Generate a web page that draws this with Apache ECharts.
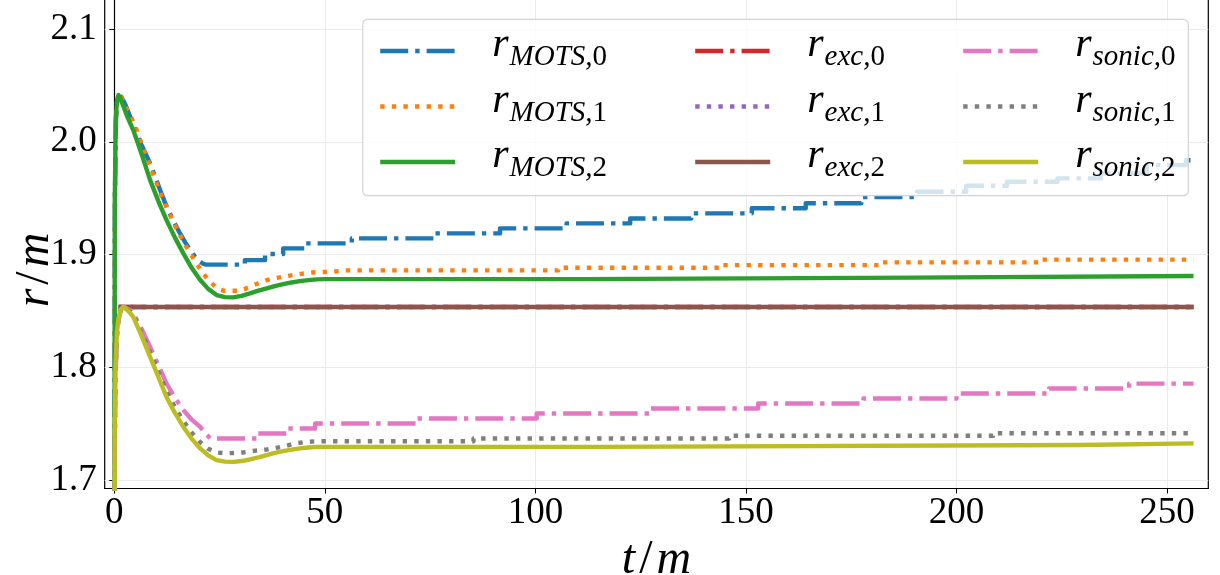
<!DOCTYPE html>
<html>
<head>
<meta charset="utf-8">
<script src="https://cdn.jsdelivr.net/npm/echarts@6/dist/echarts.min.js"></script>
<style>
  html, body { margin: 0; padding: 0; background: #ffffff; }
  #chart { width: 1220px; height: 575px; }
</style>
</head>
<body>
<div id="chart"></div>
<script>
// ---- data: radii r/m against time t/m ----
// Each curve: a transient part [t, r] followed by staircase levels [t_jump, new r]
const T_END = 256.3;

const xTicks = [0, 50, 100, 150, 200, 250];
const yTicks = [1.7, 1.8, 1.9, 2.0, 2.1];

// MOTS radii
const motsCurve0 = [[0,1.55],[0.15,1.95],[0.4,2.02],[0.7,2.037],[1.1,2.042],[1.8,2.039],[2.5,2.034],[3.3,2.0266],[4.7,2.0135],[6.1,2.0],[7.3,1.9905],[8.5,1.9808],[9.7,1.969],[10.9,1.957],[12.0,1.9465],[13.2,1.9365],[14.4,1.9272],[15.6,1.9187],[16.8,1.911],[18,1.904],[19.2,1.898],[20.4,1.8935],[21.1,1.8918],[21.8,1.891]];
const motsSteps0 = [[31,1.895],[35.8,1.9004],[40.1,1.9054],[45.3,1.9099],[56.4,1.9143],[75.8,1.9187],[91.6,1.9232],[107.4,1.9276],[122.5,1.932],[137,1.9365],[151.4,1.941],[164.2,1.9455],[177.4,1.951],[190.6,1.9557],[202.3,1.961],[212,1.9645],[224,1.9675],[234.3,1.972],[245.2,1.9793],[254.5,1.9836]];

const motsCurve1 = [[0,1.55],[0.15,1.95],[0.4,2.02],[0.7,2.037],[1.1,2.0415],[1.8,2.0385],[2.4,2.034],[3,2.029],[4.1,2.021],[5.2,2.0115],[7.2,1.991],[9.2,1.9715],[11.1,1.953],[13.1,1.936],[15.1,1.9205],[17.1,1.907],[19.1,1.8945],[21.1,1.883],[22.6,1.8765],[24,1.8715],[25,1.869],[26,1.8678],[29.5,1.8678],[30.8,1.8692],[32.2,1.8713],[34.2,1.8745],[36.2,1.8773],[38.1,1.879],[40,1.8802],[42,1.8815],[44,1.8826],[47,1.8841],[52,1.8848],[55,1.8859]];
const motsSteps1 = [[105.4,1.8882],[144.5,1.8906],[182.3,1.893],[220.3,1.8955]];

const motsCurve2 = [[0,1.55],[0.12,1.95],[0.35,2.02],[0.65,2.037],[1.0,2.0414],[1.5,2.0385],[2.0,2.033],[3.0,2.023],[4.5,2.0104],[6.5,1.989],[8.5,1.966],[10.5,1.947],[12.4,1.9305],[14.4,1.915],[16.4,1.901],[18.4,1.888],[20.4,1.8773],[22.3,1.8695],[24.3,1.864],[26.3,1.8622],[28.3,1.862],[30.2,1.8633],[32.2,1.8655],[34.2,1.868],[36.2,1.870],[38.1,1.872],[40.1,1.8737],[42.1,1.8752],[44.1,1.8764],[46.1,1.8773],[48.1,1.8779],[50,1.8782]];
const motsSteps2 = [[111.3,1.8795],[189.8,1.881]];

// excision radii (constant)
const excCurve0 = [[1.0,1.8535]];
const excCurve1 = [[1.0,1.8535]];
const excCurve2 = [[1.0,1.8535]];

// sonic-point radii
const sonicCurve0 = [[0,1.55],[0.1,1.72],[0.3,1.79],[0.6,1.825],[1.0,1.842],[1.6,1.851],[2.3,1.8535],[3,1.852],[3.8,1.8505],[4.5,1.848],[6.5,1.834],[8.5,1.818],[10.5,1.8015],[12.4,1.7856],[14.4,1.7728],[16.4,1.762],[18.4,1.7535],[20.4,1.7471],[21.6,1.7415],[22.8,1.7368]];
const sonicSteps0 = [[33.8,1.7413],[40.9,1.7457],[47.7,1.7501],[71.8,1.7546],[100.3,1.759],[127.2,1.7634],[152.9,1.7679],[177.9,1.7723],[200,1.7767],[222,1.7811],[241,1.7855]];

const sonicCurve1 = [[0,1.55],[0.1,1.73],[0.3,1.795],[0.6,1.828],[1.0,1.8425],[1.5,1.851],[2.2,1.8535],[3,1.8515],[3.8,1.849],[4.5,1.8462],[6.5,1.8305],[8.5,1.8135],[10.5,1.796],[12.4,1.779],[14.4,1.7645],[16.4,1.7525],[18.4,1.742],[20.4,1.7335],[22.2,1.728],[24,1.7245],[26,1.7238],[29.9,1.724],[33,1.7258],[36.3,1.7271],[38.4,1.7285],[40.5,1.730],[42.9,1.7324],[45.3,1.7336],[48,1.7344]];
const sonicSteps1 = [[85.3,1.7368],[146,1.7392],[208.7,1.7415]];

const sonicCurve2 = [[0,1.55],[0.1,1.74],[0.3,1.80],[0.6,1.83],[1.0,1.843],[1.5,1.851],[2.1,1.8536],[3,1.851],[3.8,1.848],[4.5,1.8447],[6.5,1.8275],[8.5,1.8092],[10.5,1.791],[12.4,1.7737],[14.4,1.7595],[16.4,1.7471],[18.4,1.7365],[20.4,1.728],[22.3,1.7218],[24.3,1.7176],[26.3,1.7163],[28.3,1.7161],[30.2,1.7168],[32.2,1.7182],[34.2,1.7200],[36.2,1.722],[38.1,1.724],[40.1,1.7256],[42.1,1.727],[44.1,1.728],[46.1,1.7288],[48.1,1.7294]];
const sonicSteps2 = [[116.2,1.731],[229.6,1.7325]];

// ---- helpers ----
function buildPath(curve, steps) {
  const pts = curve.map(p => p.slice());
  let v = curve[curve.length - 1][1];
  (steps || []).forEach(([t, nv]) => { pts.push([t, v], [t, nv]); v = nv; });
  pts.push([T_END, v]);
  return pts;
}

const LW = 4.4;
const DASHDOT = [28, 7, 4.4, 7];
const DOTTED = [4.4, 7.2];

const SERIES = [
  { name: 'MOTS,0',  color: '#1f77b4', type: DASHDOT, data: buildPath(motsCurve0, motsSteps0) },
  { name: 'MOTS,1',  color: '#ff7f0e', type: DOTTED,  data: buildPath(motsCurve1, motsSteps1) },
  { name: 'MOTS,2',  color: '#2ca02c', type: 'solid', data: buildPath(motsCurve2, motsSteps2) },
  { name: 'exc,0',   color: '#d62728', type: DASHDOT, data: buildPath(excCurve0, []) },
  { name: 'exc,1',   color: '#9467bd', type: DOTTED,  data: buildPath(excCurve1, []) },
  { name: 'exc,2',   color: '#8c564b', type: 'solid', data: buildPath(excCurve2, []) },
  { name: 'sonic,0', color: '#e377c2', type: DASHDOT, data: buildPath(sonicCurve0, sonicSteps0) },
  { name: 'sonic,1', color: '#7f7f7f', type: DOTTED,  data: buildPath(sonicCurve1, sonicSteps1) },
  { name: 'sonic,2', color: '#bcbd22', type: 'solid', data: buildPath(sonicCurve2, sonicSteps2) }
];

const SERIF = '"Liberation Serif", "DejaVu Serif", serif';

// legend label: italic r with a subscript like "MOTS,0" (index digit upright)
function legendLabel(name) {
  const i = name.lastIndexOf(',');
  return '{r|r}{s|' + name.slice(0, i + 1) + '}{n|' + name.slice(i + 1) + '}';
}
const legendRich = {
  r: { fontFamily: SERIF, fontStyle: 'italic', fontSize: 42, lineHeight: 42, color: '#000', verticalAlign: 'bottom', padding: [0, 1, 6, 0] },
  s: { fontFamily: SERIF, fontStyle: 'italic', fontSize: 29, lineHeight: 29, color: '#000', verticalAlign: 'bottom' },
  n: { fontFamily: SERIF, fontSize: 29, lineHeight: 29, color: '#000', verticalAlign: 'bottom' }
};

// axis titles: italic letters around an upright slash
const axisRich = {
  i: { fontFamily: SERIF, fontStyle: 'italic', fontSize: 48, color: '#000' },
  s: { fontFamily: SERIF, fontSize: 48, color: '#000', padding: [0, 4, 0, 4] }
};

const legendCols = [
  { left: 378, names: ['MOTS,0', 'MOTS,1', 'MOTS,2'] },
  { left: 693, names: ['exc,0', 'exc,1', 'exc,2'] },
  { left: 961, names: ['sonic,0', 'sonic,1', 'sonic,2'] }
];

const chart = echarts.init(document.getElementById('chart'), null, { renderer: 'canvas' });

chart.setOption({
  animation: false,
  backgroundColor: '#ffffff',
  grid: {
    left: 104.7, right: 11.7, top: -1, bottom: 86.5,
    outerBoundsMode: 'none',
    containLabel: false,
    show: true, borderColor: '#000', borderWidth: 1.2, backgroundColor: 'transparent'
  },
  xAxis: {
    type: 'value',
    min: -2.28, max: 259.8,
    name: '{i|t}{s|/}{i|m}',
    nameLocation: 'middle',
    nameGap: 28,
    nameTextStyle: { rich: axisRich, fontSize: 48 },
    axisLine: { show: true, lineStyle: { color: '#000', width: 1.2 } },
    axisTick: { show: true, length: 5, lineStyle: { color: '#000', width: 1 }, customValues: xTicks },
    axisLabel: { customValues: xTicks, fontFamily: SERIF, fontSize: 37, color: '#000', margin: 6 },
    splitLine: { show: true, lineStyle: { color: '#ebebeb', width: 1 } }
  },
  yAxis: {
    type: 'value',
    min: 1.69246, max: 2.12662,
    axisLine: { show: true, lineStyle: { color: '#000', width: 1.2 } },
    axisTick: { show: true, length: 5, lineStyle: { color: '#000', width: 1 }, customValues: yTicks },
    axisLabel: { customValues: yTicks, fontFamily: SERIF, fontSize: 37, color: '#000', margin: 8,
                 formatter: v => v.toFixed(1) },
    splitLine: { show: true, lineStyle: { color: '#ebebeb', width: 1 } }
  },
  legend: legendCols.map(col => ({
    orient: 'vertical',
    left: col.left,
    top: 24,
    padding: 0,
    itemWidth: 75,
    itemHeight: 14,
    itemGap: 7.5,
    z: 20,
    selectedMode: false,
    data: col.names,
    formatter: legendLabel,
    textStyle: { padding: [0, 0, 0, 32], rich: legendRich },
    itemStyle: { opacity: 0, borderWidth: 0 },
    lineStyle: { width: LW, opacity: 1 }
  })),
  graphic: [
    {
      type: 'rect', z: 10,
      shape: { x: 362.7, y: 19.3, width: 825.6, height: 176.4, r: 5 },
      style: { fill: 'rgba(255,255,255,0.8)', stroke: '#d4d4d4', lineWidth: 1.2 }
    },
    {
      type: 'text', z: 10,
      x: 35, y: 270, rotation: Math.PI / 2,
      style: { text: '{i|r}{s|/}{i|m}', rich: axisRich, fontSize: 48, fill: '#000',
               align: 'center', verticalAlign: 'middle' }
    }
  ],
  series: SERIES.map(s => ({
    name: s.name,
    type: 'line',
    data: s.data,
    symbol: 'none',
    showSymbol: false,
    clip: true,
    lineStyle: { color: s.color, width: LW, type: s.type, cap: 'butt', join: 'round' },
    itemStyle: { color: s.color },
    emphasis: { disabled: true }
  }))
});
</script>
</body>
</html>
